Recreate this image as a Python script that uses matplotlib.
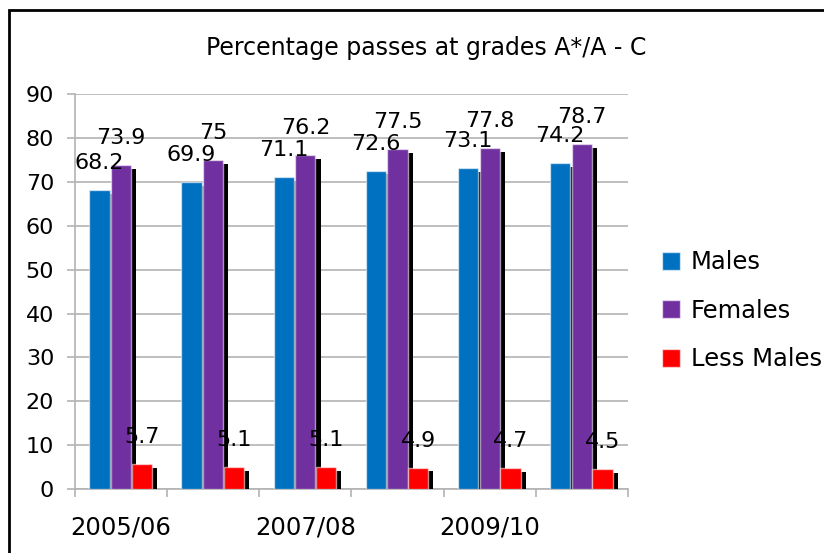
import matplotlib
matplotlib.use("Agg")
import matplotlib.pyplot as plt
from matplotlib.patches import Patch, Rectangle
import numpy as np

# data
years = ['2005/06', '2006/07', '2007/08', '2008/09', '2009/10', '2010/11']
males = [68.2, 69.9, 71.1, 72.6, 73.1, 74.2]
females = [73.9, 75, 76.2, 77.5, 77.8, 78.7]
less_males = [5.7, 5.1, 5.1, 4.9, 4.7, 4.5]

series = [
    ('Males', males, '#0070C0', -0.235),
    ('Females', females, '#7030A0', 0.0),
    ('Less Males', less_males, '#FF0000', 0.225),
]

plt.rcParams['font.family'] = ['DejaVu Sans']

fig = plt.figure(figsize=(8.24, 5.53), dpi=100)
ax = fig.add_axes([0.091, 0.1157, 0.671, 0.714])

x = np.arange(len(years)) + 0.5
width = 0.22
z = 3
for name, vals, color, off in series:
    vals = np.array(vals)
    # little black "3D" shadow behind each bar
    ax.bar(x + off + 0.055, vals - 0.9, width, color='black', zorder=z)
    ax.bar(x + off, vals, width, color=color, edgecolor=(1, 1, 1, 0.55),
           linewidth=1, zorder=z + 1)
    for xi, v in zip(x + off, vals):
        ax.annotate(f'{v:g}', (xi, v), xytext=(0, 27), textcoords='offset pixels',
                    ha='center', va='center', fontsize=16, zorder=10)
    z += 2

ax.set_xlim(0, len(years))
ax.set_ylim(0, 90)
ax.set_yticks(range(0, 91, 10))
ax.yaxis.grid(True, color='#b3b3b3', linewidth=1.2)
ax.set_axisbelow(True)

ax.set_xticks(range(len(years) + 1))
ax.set_xticklabels([])
ax.set_xticks(x, minor=True)
ax.set_xticklabels([y if i % 2 == 0 else '' for i, y in enumerate(years)],
                   minor=True, fontsize=17.5)
ax.tick_params(axis='x', which='minor', length=0, pad=19)
ax.tick_params(axis='x', which='major', length=6, color='#b3b3b3', width=1.2)
ax.tick_params(axis='y', length=6, color='#b3b3b3', width=1.2, labelsize=16, pad=9)

for s in ['top', 'right']:
    ax.spines[s].set_visible(False)
for s in ['left', 'bottom']:
    ax.spines[s].set_color('#b3b3b3')
    ax.spines[s].set_linewidth(1.2)

fig.text(0.517, 0.913, 'Percentage passes at grades A*/A - C', ha='center',
         va='center', fontsize=17)

handles = [Patch(facecolor=c, edgecolor=(1, 1, 1, 0.6)) for _, _, c, _ in series]
fig.legend(handles, [s[0] for s in series], loc='center left',
           bbox_to_anchor=(0.803, 0.438), frameon=False, fontsize=17.5,
           handlelength=0.75, handleheight=0.75, handletextpad=0.45,
           labelspacing=1.0, borderpad=0, borderaxespad=0)

# outer frame of the chart object
fig.add_artist(Rectangle((0.0115, -0.2), 1.5, 1.182, transform=fig.transFigure,
                         fill=False, edgecolor='black', linewidth=2))

fig.savefig('out.png', dpi=100)
